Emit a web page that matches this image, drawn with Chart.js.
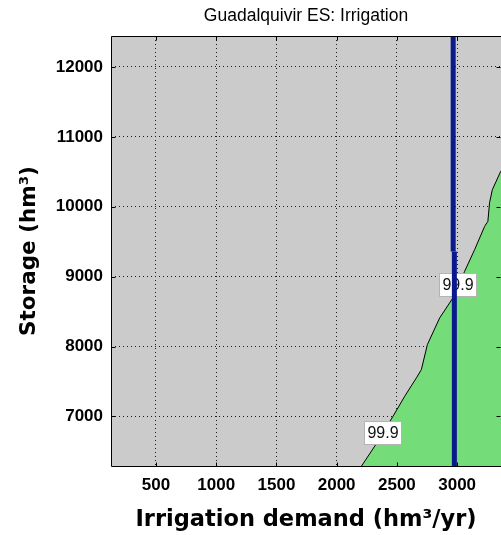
<!DOCTYPE html>
<html>
<head>
<meta charset="utf-8">
<script src="https://cdn.jsdelivr.net/npm/chart.js@4"></script>
<style>
  body { margin: 0; background: #fff; overflow: hidden; }
  canvas { display: block; }
</style>
</head>
<body>
<canvas id="chart" width="501" height="535"></canvas>
<script>
// boundary of the green (reliable) region
const curveX = [2190, 2206, 2316, 2468, 2565, 2662, 2703, 2753, 2855, 2965, 3062, 3145, 3228, 3255, 3269, 3292, 3361, 3420];
const curveY = [6200, 6290, 6576, 7004, 7290, 7553, 7671, 8029, 8410, 8696, 9076, 9386, 9719, 9790, 10057, 10243, 10504, 10650];

// current demand (vertical blue line, drawn in two pieces)
const demandTopX = [2967, 2967];
const demandTopY = [13000, 9360];
const demandBottomX = [2977, 2977];
const demandBottomY = [9360, 6000];

// contour labels
const labelX = [3004, 2382];
const labelY = [8886, 6771];
const labelText = ['99.9', '99.9'];

const xTicks = [500, 1000, 1500, 2000, 2500, 3000];
const yTicks = [7000, 8000, 9000, 10000, 11000, 12000];

const xMin = 127;
const xMax = 3364;
const yMin = 6292;
const yMax = 12442;

const toPoints = (xs, ys) => xs.map((x, i) => ({ x, y: ys[i] }));

const tickFont = { family: '"Liberation Sans", Arial, sans-serif', size: 17, weight: '600' };

const plotFrame = {
  id: 'plotFrame',
  beforeDraw (chart) {
    const { ctx, chartArea: a } = chart;
    ctx.save();
    ctx.fillStyle = '#cbcbcb';
    ctx.fillRect(a.left, a.top, a.right - a.left, a.bottom - a.top);
    ctx.restore();
  },
  afterDatasetDraw (chart, args) {
    if (args.index !== 0) return;
    const { ctx } = chart;
    const xs = chart.scales.x;
    const ys = chart.scales.y;
    ctx.save();
    ctx.font = '16px "Liberation Sans", Arial, sans-serif';
    ctx.textAlign = 'center';
    ctx.textBaseline = 'middle';
    labelText.forEach((t, i) => {
      const px = Math.round(xs.getPixelForValue(labelX[i]));
      const py = Math.round(ys.getPixelForValue(labelY[i]));
      ctx.fillStyle = '#fff';
      ctx.fillRect(px - 18.5, py - 11.5, 37, 23);
      ctx.strokeStyle = '#b4b4b4';
      ctx.lineWidth = 1;
      ctx.strokeRect(px - 18.5, py - 11.5, 37, 23);
      ctx.fillStyle = '#111';
      ctx.fillText(t, px, py + 1);
    });
    ctx.restore();
  },
  afterDraw (chart) {
    const { ctx, chartArea: a } = chart;
    const xs = chart.scales.x;
    const ys = chart.scales.y;
    const l = Math.round(a.left) + 0.5;
    const t = Math.round(a.top) + 0.5;
    const b = Math.round(a.bottom) + 0.5;
    const r = Math.round(a.right) + 0.5;
    ctx.save();
    ctx.strokeStyle = '#000';
    ctx.lineWidth = 1;
    ctx.beginPath();
    ctx.moveTo(r, t); ctx.lineTo(l, t); ctx.lineTo(l, b); ctx.lineTo(r, b);
    xTicks.forEach(v => {
      const px = Math.round(xs.getPixelForValue(v)) + 0.5;
      ctx.moveTo(px, b); ctx.lineTo(px, b - 4);
      ctx.moveTo(px, t); ctx.lineTo(px, t + 4);
    });
    yTicks.forEach(v => {
      const py = Math.round(ys.getPixelForValue(v)) + 0.5;
      ctx.moveTo(l, py); ctx.lineTo(l + 4, py);
      ctx.moveTo(r - 1, py); ctx.lineTo(r - 5, py);
    });
    ctx.stroke();
    ctx.restore();
  }
};

const blueLine = {
  borderColor: '#0a1a8c',
  borderWidth: 5,
  borderCapStyle: 'butt',
  fill: false,
  pointRadius: 0,
  tension: 0,
  order: 1
};

// eslint-disable-next-line no-undef
const chart = new Chart('chart', {
  type: 'line',
  data: {
    datasets: [
      {
        data: toPoints(curveX, curveY),
        borderColor: '#000',
        borderWidth: 1,
        backgroundColor: '#74dc78',
        fill: 'start',
        pointRadius: 0,
        tension: 0,
        order: 2
      },
      { ...blueLine, data: toPoints(demandTopX, demandTopY) },
      { ...blueLine, data: toPoints(demandBottomX, demandBottomY) }
    ]
  },
  options: {
    responsive: false,
    devicePixelRatio: 1,
    animation: false,
    layout: { padding: 0 },
    plugins: {
      legend: { display: false },
      tooltip: { enabled: false },
      title: {
        display: true,
        text: 'Guadalquivir ES: Irrigation',
        fullSize: false,
        color: '#000',
        font: { family: '"Liberation Sans", Arial, sans-serif', size: 17.5, weight: 'normal' },
        padding: { top: 6, bottom: 9 }
      }
    },
    scales: {
      x: {
        type: 'linear',
        min: xMin,
        max: xMax,
        z: 1,
        afterBuildTicks: scale => { scale.ticks = xTicks.map(value => ({ value })); },
        afterFit: scale => { scale.height = 69; },
        grid: { color: '#1a1a1a', lineWidth: 1, drawTicks: false },
        border: { display: false, dash: [1, 3] },
        ticks: {
          autoSkip: false,
          maxRotation: 0,
          padding: 9,
          color: '#000',
          font: tickFont,
          callback: v => String(v)
        },
        title: {
          display: true,
          text: 'Irrigation demand (hm³/yr)',
          color: '#000',
          font: { family: '"DejaVu Sans", Verdana, sans-serif', size: 22.5, weight: 'bold' },
          padding: { top: 0, bottom: 1 }
        }
      },
      y: {
        type: 'linear',
        min: yMin,
        max: yMax,
        z: 1,
        afterBuildTicks: scale => { scale.ticks = yTicks.map(value => ({ value })); },
        afterFit: scale => { scale.width = 111; },
        grid: { color: '#1a1a1a', lineWidth: 1, drawTicks: false },
        border: { display: false, dash: [1, 3] },
        ticks: {
          autoSkip: false,
          padding: 8,
          color: '#000',
          font: tickFont,
          callback: v => String(v)
        },
        title: {
          display: true,
          text: 'Storage (hm³)',
          color: '#000',
          font: { family: '"DejaVu Sans", Verdana, sans-serif', size: 21.5, weight: 'bold' },
          padding: { top: 17, bottom: 0 }
        }
      }
    }
  },
  plugins: [plotFrame]
});
</script>
</body>
</html>
